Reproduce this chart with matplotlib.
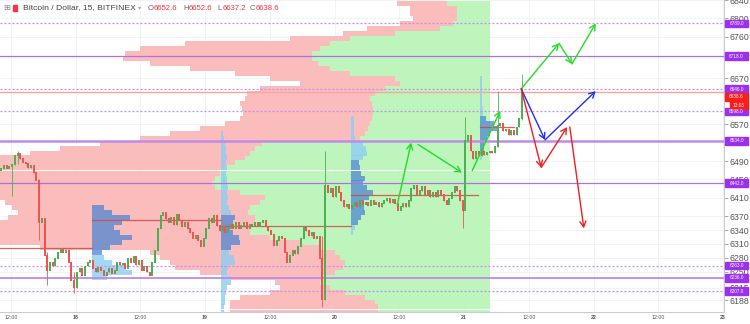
import matplotlib
matplotlib.use("Agg")
import matplotlib.pyplot as plt
from matplotlib.patches import Rectangle
from matplotlib.transforms import blended_transform_factory

# ---- price data: 30-minute closes, hours counted from 17th 00:00 ----
first_open = 6470
closes = [
    6474, 6480, 6474, 6478, 6482, 6502, 6506, 6495, 6487, 6484,
    6476, 6480, 6465, 6448, 6357, 6365, 6285, 6253, 6270, 6262,
    6279, 6292, 6301, 6292, 6296, 6270, 6231, 6214, 6249, 6257,
    6242, 6262, 6270, 6275, 6257, 6249, 6259, 6253, 6242, 6249,
    6257, 6246, 6253, 6270, 6264, 6268, 6257, 6279, 6270, 6283,
    6264, 6275, 6253, 6262, 6249, 6242, 6270, 6296, 6344, 6372,
    6378, 6365, 6357, 6368, 6352, 6374, 6361, 6348, 6357, 6344,
    6335, 6322, 6329, 6318, 6305, 6322, 6344, 6365, 6357, 6372,
    6350, 6339, 6348, 6335, 6344, 6352, 6344, 6357, 6344, 6350,
    6357, 6344, 6352, 6348, 6357, 6348, 6357, 6361, 6348, 6339,
    6331, 6307, 6318, 6327, 6322, 6292, 6270, 6285, 6296, 6288,
    6305, 6322, 6348, 6339, 6327, 6335, 6322, 6327, 6279, 6188,
    6437, 6422, 6430, 6413, 6435, 6422, 6404, 6391, 6396, 6387,
    6394, 6400, 6391, 6404, 6396, 6400, 6394, 6404, 6396, 6400,
    6391, 6398, 6404, 6409, 6400, 6407, 6398, 6383, 6391, 6398,
    6391, 6404, 6430, 6437, 6417, 6426, 6435, 6417, 6426, 6413,
    6422, 6413, 6426, 6417, 6404, 6396, 6409, 6422, 6435, 6426,
    6404, 6383, 6534, 6545, 6512, 6495, 6512, 6502, 6512, 6504,
    6508, 6512, 6508, 6521, 6567, 6573, 6556, 6560, 6547, 6556,
    6547, 6564, 6582, 6638.6,
]
wick_idx = [4, 6, 14, 17, 27, 119, 120, 171, 172, 184, 193]
wick_high = [6484, 6512, 6450, 6292, 6250, 6327, 6512, 6404, 6586, 6642, 6679]
wick_low = [6415, 6484, 6318, 6220, 6203, 6173, 6188, 6344, 6383, 6521, 6580]
START_HOUR = 10.25
STEP_HOURS = 0.5

# ---- visible range volume profile (anchored on the right) ----
vp_prices = [
    6832, 6821, 6810, 6799, 6788, 6778, 6767, 6756, 6745, 6734,
    6723, 6713, 6702, 6691, 6680, 6669, 6659, 6648, 6637, 6626,
    6615, 6605, 6594, 6583, 6572, 6561, 6551, 6540, 6529, 6518,
    6507, 6497, 6486, 6475, 6464, 6453, 6443, 6432, 6421, 6410,
    6399, 6389, 6378, 6367, 6356, 6345, 6335, 6324, 6313, 6302,
    6291, 6281, 6270, 6259, 6248, 6237, 6227, 6216, 6205, 6194,
    6183, 6173, 6162,
]
vp_up = [
    43, 33, 33, 33, 37, 50, 95, 140, 160, 170,
    178, 178, 172, 160, 140, 95, 90, 105, 115, 120,
    118, 117, 117, 118, 120, 122, 125, 130, 228, 235,
    240, 245, 255, 265, 270, 275, 278, 275, 250, 225,
    230, 240, 242, 235, 235, 240, 240, 220, 190, 170,
    155, 150, 145, 147, 155, 168, 170, 160, 145, 125,
    115, 112, 112,
]
vp_down = [
    50, 47, 47, 44, 53, 73, 52, 60, 145, 180,
    187, 189, 168, 140, 115, 125, 100, 125, 128, 125,
    132, 131, 130, 132, 145, 168, 195, 220, 162, 195,
    220, 260, 280, 290, 300, 300, 300, 300, 300, 290,
    255, 238, 230, 247, 270, 280, 280, 300, 310, 280,
    185, 180, 175, 168, 135, 92, 45, 50, 75, 125,
    145, 148, 148,
]
VP_ANCHOR = 100.8
VP_UNIT_HOURS = 1 / 5.396
VP_BIN = 10.9

# ---- session volume profiles (start hour, first bin, volumes, value area bins) ----
sess_start = [27, 51, 75, 99]
sess_first_bin = [41, 26, 23, 15]
sess_vols = [
    [12, 20, 38, 30, 22, 28, 40, 30, 18, 10, 12, 20, 34, 40, 15],
    [2, 3, 4, 5, 5, 6, 5, 6, 5, 6, 6, 7, 6, 7, 6, 8, 10, 14, 12, 9,
     12, 18, 19, 10, 8, 13, 14, 7, 6, 9, 10, 6, 5, 4, 4, 3, 3],
    [3, 3, 3, 3, 4, 12, 15, 16, 12, 8, 9, 10, 14, 12, 16, 22, 18, 12,
     13, 14, 10, 7, 4, 2],
    [2, 2, 2, 2, 2, 2, 3, 3, 6, 14, 17, 10, 7, 4, 4, 3, 2],
]
sess_va = [(41, 50), (43, 49), (32, 44), (23, 29)]
poc_price = [6301, 6363, 6350, 6417, 6564]
poc_from = [10, 27, 51, 75, 99]
poc_to = [27, 51, 75, 98.6, 105.2]

# ---- levels ----
solid_levels = [6718, 6534, 6442, 6236]
solid_widths = [0.9, 1.8, 0.9, 1.3]
dashed_levels = [6789, 6646, 6598, 6263, 6207]
tag_levels = [6789.0, 6718.0, 6646.0, 6598.0, 6534.0, 6442.0, 6263.0, 6236.0, 6207.0]
last_price = 6638.6
countdown = "13:03"

# ---- drawn arrows (hour, price) ----
green_paths = [
    [(83.6, 6394), (86.2, 6530)],
    [(87.5, 6526), (95.6, 6465)],
    [(97.5, 6469), (102.7, 6599)],
    [(106.6, 6647), (113.6, 6746)],
    [(113.6, 6746), (116.0, 6701)],
    [(116.0, 6701), (120.4, 6789)],
]
blue_paths = [
    [(106.6, 6647), (111.0, 6536)],
    [(111.0, 6536), (120.4, 6642)],
]
red_paths = [
    [(106.6, 6647), (110.3, 6476)],
    [(110.3, 6476), (115.1, 6564)],
    [(115.6, 6564), (118.2, 6344)],
]

price_ticks = [6840, 6800, 6760, 6670, 6570, 6490, 6450, 6410, 6370, 6340,
               6310, 6280, 6250, 6215, 6188]
time_ticks = [12, 24, 36, 48, 60, 72, 84, 96, 108, 120, 132, 144]
time_labels = ["12:00", "18", "12:00", "19", "12:00", "20", "12:00", "21",
               "12:00", "22", "12:00", "23"]

UP = "#4caf50"
DOWN = "#ef5350"
PURPLE = "#9b30f0"

plt.rcParams["font.family"] = ["Liberation Sans", "DejaVu Sans"]

fig = plt.figure(figsize=(7.5, 3.24), dpi=100)
ax = fig.add_axes([0, 12 / 324, 724 / 750, 312 / 324])
ax.set_xlim(10, 10 + 724 / 5.396)
ax.set_ylim(6162.1, 6837)
ax.set_facecolor("white")

# grid
for t in time_ticks:
    ax.axvline(t, color="#eef1f6", lw=0.6, zorder=0)
for p in price_ticks:
    ax.axhline(p, color="#eef1f6", lw=0.6, zorder=0)

# big profile
up_w = [u * VP_UNIT_HOURS for u in vp_up]
down_w = [d * VP_UNIT_HOURS for d in vp_down]
ax.barh(vp_prices, up_w, left=[VP_ANCHOR - w for w in up_w], height=VP_BIN,
        color="#bdf5bd", linewidth=0, zorder=1)
ax.barh(vp_prices, down_w, left=[VP_ANCHOR - u - d for u, d in zip(up_w, down_w)],
        height=VP_BIN, color="#fbbcbc", linewidth=0, zorder=1)

# session profiles
for start, first, vols, (va_lo, va_hi) in zip(sess_start, sess_first_bin, sess_vols, sess_va):
    for j, v in enumerate(vols):
        k = first + j
        dark = va_lo <= k <= va_hi
        ax.barh(vp_prices[k], v * VP_UNIT_HOURS, left=start, height=VP_BIN,
                color="#4f86d4" if dark else "#8ecdf2",
                alpha=0.75 if dark else 0.8, linewidth=0, zorder=2)
for p, a, b in zip(poc_price, poc_from, poc_to):
    ax.plot([a, b], [p, p], color="#d04a40", lw=0.9, alpha=0.85, zorder=3)

# levels
for p, w in zip(solid_levels, solid_widths):
    ax.axhline(p, color="#c08ae8" if w > 1 else "#b070e0", lw=w, zorder=3)
for p in dashed_levels:
    ax.axhline(p, color="#c48ef0", lw=0.9, ls=(0, (1.6, 1.6)), zorder=3)
ax.axhline(last_price + 2, color="#f7a5a5", lw=1.0, zorder=3)

# candles
opens = [first_open] + closes[:-1]
highs = [max(o, c) for o, c in zip(opens, closes)]
lows = [min(o, c) for o, c in zip(opens, closes)]
for i, h, l in zip(wick_idx, wick_high, wick_low):
    highs[i] = max(highs[i], h)
    lows[i] = min(lows[i], l)
times = [START_HOUR + STEP_HOURS * i for i in range(len(closes))]
colors = [UP if c >= o else DOWN for o, c in zip(opens, closes)]
ax.vlines(times, lows, highs, colors=colors, lw=0.6, zorder=4)
ax.vlines(times, [min(o, c) - 0.8 for o, c in zip(opens, closes)],
          [max(o, c) + 0.8 for o, c in zip(opens, closes)],
          colors=colors, lw=1.4, zorder=4)

# arrows
for paths, col in ((green_paths, "#22dd22"), (blue_paths, "#1f2ff0"), (red_paths, "#f01e1e")):
    for (x0, y0), (x1, y1) in paths:
        ax.annotate("", xy=(x1, y1), xytext=(x0, y0),
                    arrowprops=dict(arrowstyle="->,head_length=0.4,head_width=0.22",
                                    color=col, lw=1.0, shrinkA=0, shrinkB=0),
                    zorder=5)

# axes
for side in ("top", "left"):
    ax.spines[side].set_visible(False)
ax.spines["right"].set_color("#c9ccd3")
ax.spines["bottom"].set_color("#c9ccd3")
ax.yaxis.tick_right()
ax.set_yticks(price_ticks)
ax.set_yticklabels([str(p) for p in price_ticks])
ax.tick_params(axis="y", length=3, width=0.6, color="#999999", labelsize=6.3,
               labelcolor="#555555", pad=1)
ax.set_xticks(time_ticks)
ax.set_xticklabels(time_labels)
ax.tick_params(axis="x", length=0, labelsize=3.8, labelcolor="#555555", pad=2.5)
for lbl in ax.get_xticklabels():
    if ":" not in lbl.get_text():
        lbl.set_fontweight("bold")

# price tags
tr = blended_transform_factory(ax.transAxes, ax.transData)
for p in tag_levels:
    ax.add_patch(Rectangle((1 + 1 / 724, p - 8.4), 23 / 724, 16.8, transform=tr,
                           color=PURPLE, clip_on=False, zorder=6))
    ax.text(1 + 12.5 / 724, p, f"{p:.1f}", transform=tr, ha="center", va="center",
            fontsize=3.4, color="white", clip_on=False, zorder=7)
ax.add_patch(Rectangle((1 + 1 / 724, last_price - 8.4 - 8.6), 23 / 724, 16.8,
                       transform=tr, color="#ff1c1c", clip_on=False, zorder=6))
ax.text(1 + 12.5 / 724, last_price - 8.6, f"{last_price:.1f}", transform=tr,
        ha="center", va="center", fontsize=3.4, color="white", clip_on=False, zorder=7)
ax.add_patch(Rectangle((1 + 6 / 724, last_price - 8.4 - 27.5), 18 / 724, 16.8,
                       transform=tr, color="#ff1c1c", clip_on=False, zorder=6))
ax.text(1 + 15 / 724, last_price - 27.5, countdown, transform=tr,
        ha="center", va="center", fontsize=3.4, color="white", clip_on=False, zorder=7)

# header
def px(x, y):
    return x / 750, 1 - y / 324

fig.text(*px(3, 8), "\u229e", fontsize=6, color="#888888", va="center",
         family="DejaVu Sans")
fig.add_artist(Rectangle(px(13.5, 11), 4 / 750, 6 / 324, transform=fig.transFigure,
                         color="#f23645"))
fig.text(*px(23, 8), "Bitcoin / Dollar, 15, BITFINEX", fontsize=6.1, color="#444444",
         va="center")
fig.text(*px(137.5, 8), "\u25be", fontsize=4.5, color="#aaaaaa", va="center",
         family="DejaVu Sans")
for x, letter, value in ((148, "O", "6652.6"), (183, "H", "6652.6"),
                         (217, "L", "6637.2"), (250, "C", "6638.6")):
    fig.text(*px(x, 8), letter, fontsize=5.6, color="#666666", va="center")
    fig.text(*px(x + 6, 8), value, fontsize=5.6, color="#f23645", va="center")

fig.savefig("out.png", dpi=100)
